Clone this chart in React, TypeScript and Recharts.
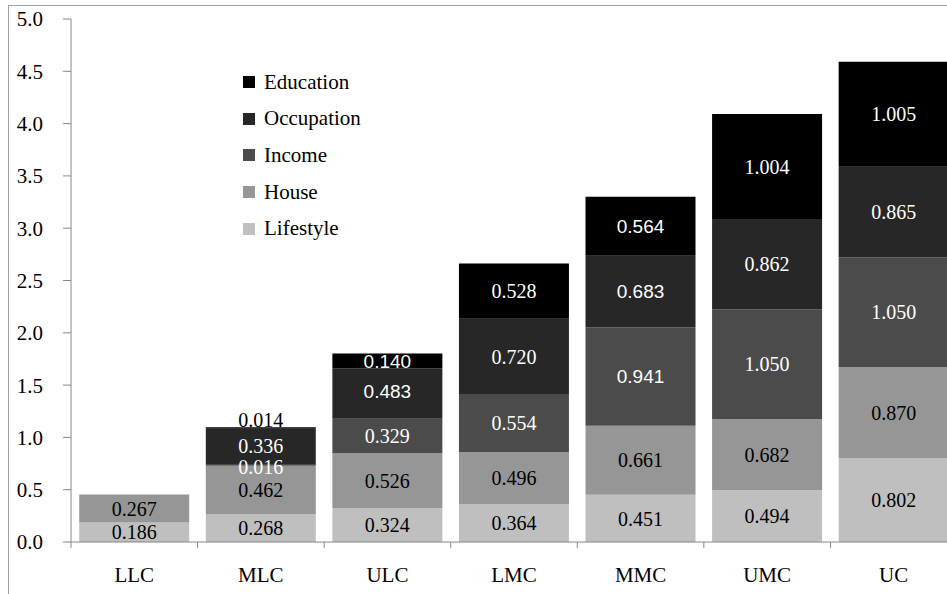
import React from "react";
import { BarChart, Bar, XAxis, YAxis, LabelList } from "recharts";

const categories = ["LLC", "MLC", "ULC", "LMC", "MMC", "UMC", "UC"];
const lifestyle = [0.186, 0.268, 0.324, 0.364, 0.451, 0.494, 0.802];
const house = [0.267, 0.462, 0.526, 0.496, 0.661, 0.682, 0.87];
const income = [null, 0.016, 0.329, 0.554, 0.941, 1.05, 1.05];
const occupation = [null, 0.336, 0.483, 0.72, 0.683, 0.862, 0.865];
const education = [null, 0.014, 0.14, 0.528, 0.564, 1.004, 1.005];
const yTicks = [0, 0.5, 1, 1.5, 2, 2.5, 3, 3.5, 4, 4.5, 5];

// stacking order bottom -> top
const series = [
  { key: "lifestyle", name: "Lifestyle", values: lifestyle, color: "#bfbfbf", text: "#000" },
  { key: "house", name: "House", values: house, color: "#969696", text: "#000" },
  { key: "income", name: "Income", values: income, color: "#4b4b4b", text: "#fff" },
  { key: "occupation", name: "Occupation", values: occupation, color: "#272727", text: "#fff" },
  { key: "education", name: "Education", values: education, color: "#000000", text: "#fff" },
];

// labels that the original drew in a sans face
const sansLabels = new Set([
  "MLC-education",
  "MLC-occupation",
  "LMC-education",
  "LMC-occupation",
  "LMC-income",
]);

const data = categories.map((c, i) => {
  const row: Record<string, any> = { name: c };
  series.forEach((s) => (row[s.key] = s.values[i]));
  return row;
});

const SERIF = "'Liberation Serif', 'Times New Roman', serif";
const SANS = "'Liberation Sans', Arial, sans-serif";
const AXIS = "#868686";

const W = 960;
const H = 594;
const MARGIN = { top: 19, right: 3, left: 0, bottom: 12 };
const Y_AXIS_W = 71;
const band = (W - MARGIN.left - MARGIN.right - Y_AXIS_W) / categories.length;

function makeLabel(key: string, color: string) {
  return (props: any) => {
    const { value, index } = props;
    if (value == null) return null;
    const x = Number(props.x);
    const y = Number(props.y);
    const w = Number(props.width);
    const h = Number(props.height);
    const sans = sansLabels.has(`${categories[index]}-${key}`);
    let cy = y + h / 2;
    let fill = color;
    if (key === "education" && value < 0.05) {
      cy = y - 7;
      fill = "#000";
    }
    // tiny segment: the original nudged its label a bit lower
    if (h < 4 && key !== "education") cy += 2;
    if (key === "occupation" && categories[index] === "MLC") cy -= 2;
    return (
      <text
        x={x + w / 2}
        y={cy}
        dy="0.355em"
        textAnchor="middle"
        fill={fill}
        fontFamily={sans ? SANS : SERIF}
        fontSize={sans ? 19 : 20}
      >
        {Number(value).toFixed(3)}
      </text>
    );
  };
}

const XTick = (props: any) => {
  const { x, y, payload } = props;
  const axisY = y - 8;
  return (
    <g>
      <line x1={x - band / 2} x2={x - band / 2} y1={axisY} y2={axisY + 6} stroke={AXIS} />
      <text x={x} y={axisY + 40} textAnchor="middle" fill="#000" fontFamily={SERIF} fontSize={21}>
        {payload.value}
      </text>
    </g>
  );
};

export default function App() {
  return (
    <div style={{ position: "relative", width: 947, height: 594, overflow: "hidden", background: "#fff" }}>
      <style>{"body{margin:0}"}</style>
      <div
        style={{
          position: "absolute",
          left: 8,
          top: 5,
          width: 1200,
          height: 1000,
          borderLeft: "1px solid #a0a0a0",
          borderTop: "1px solid #a0a0a0",
        }}
      />
      <div style={{ position: "absolute", left: 0, top: 0 }}>
        <BarChart width={W} height={H} data={data} margin={MARGIN} barCategoryGap="6.5%">
          <XAxis
            dataKey="name"
            height={40}
            stroke={AXIS}
            tickLine={false}
            tickSize={6}
            tickMargin={2}
            tick={<XTick />}
            interval={0}
          />
          <YAxis
            width={Y_AXIS_W}
            domain={[0, 5]}
            ticks={yTicks}
            stroke={AXIS}
            tickSize={8}
            tickMargin={20}
            tickFormatter={(v: number) => v.toFixed(1)}
            tick={{ fill: "#000", fontFamily: SERIF, fontSize: 21 }}
            interval={0}
          />
          {series.map((s) => (
            <Bar key={s.key} dataKey={s.key} name={s.name} stackId="a" fill={s.color} isAnimationActive={false}>
              <LabelList dataKey={s.key} content={makeLabel(s.key, s.text)} />
            </Bar>
          ))}
        </BarChart>
      </div>
      <div style={{ position: "absolute", left: 243, top: 64, fontFamily: SERIF, fontSize: 21, color: "#000" }}>
        {[...series].reverse().map((s) => (
          <div key={s.key} style={{ display: "flex", alignItems: "center", height: 36.6 }}>
            <span style={{ display: "inline-block", width: 12, height: 12, background: s.color, marginRight: 9 }} />
            <span>{s.name}</span>
          </div>
        ))}
      </div>
    </div>
  );
}
